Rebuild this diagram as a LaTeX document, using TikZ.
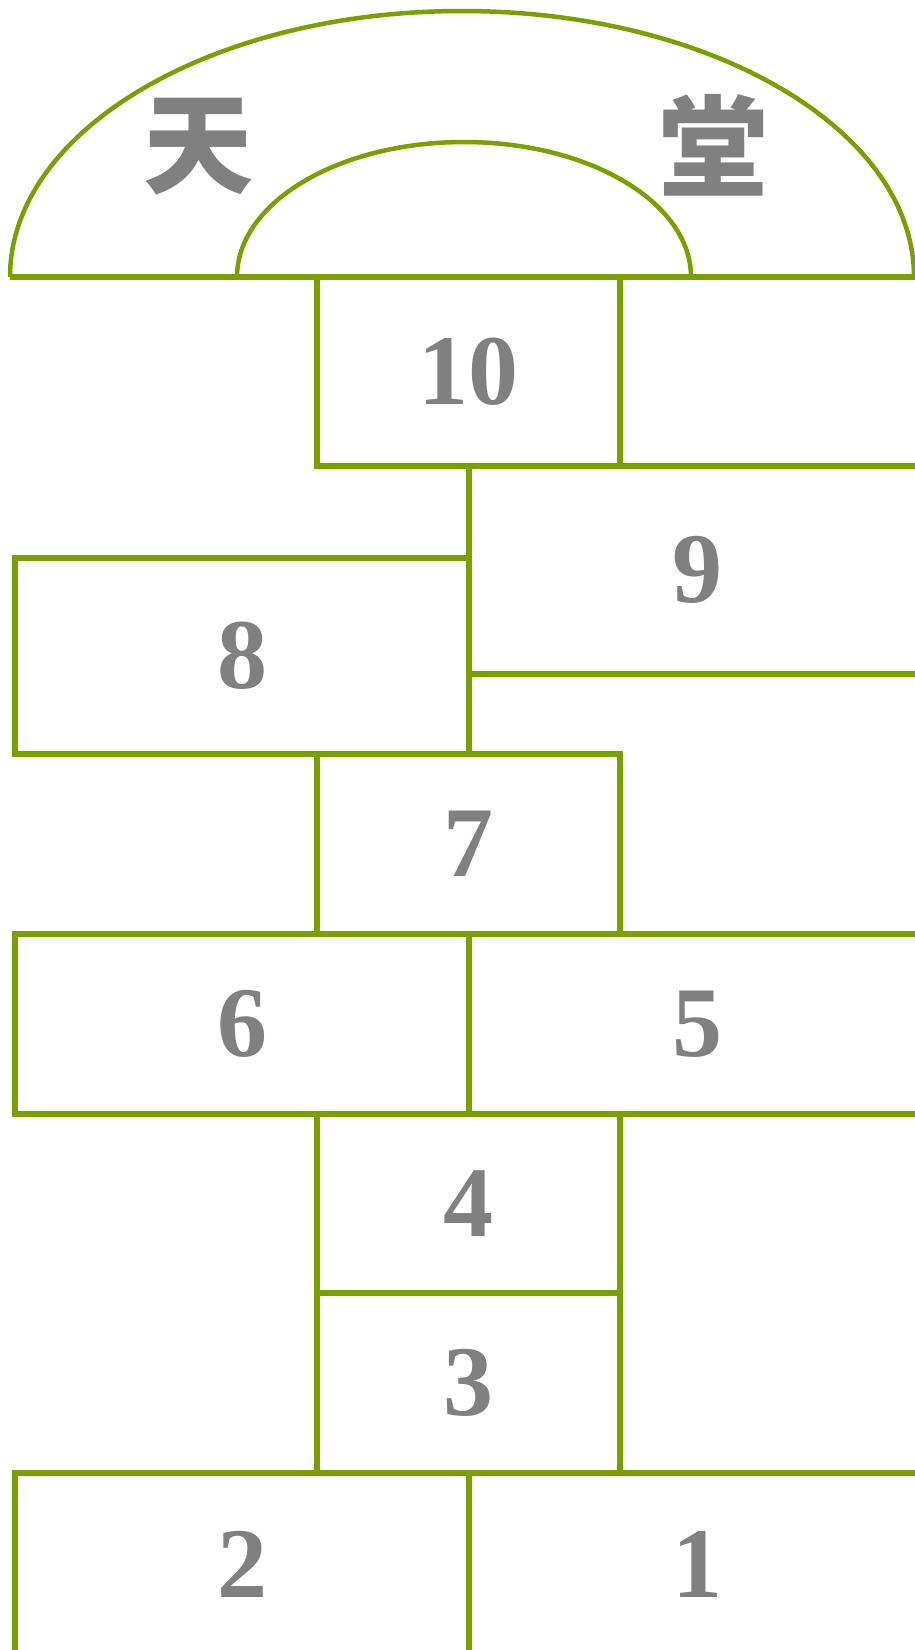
\documentclass[tikz,border=0pt]{standalone}
\usepackage{fontspec}
\setmainfont{Liberation Serif}
\newfontfamily\cjk{Noto Sans CJK SC}
\usepackage{tikz}
\definecolor{grassgreen}{RGB}{122,160,0}
\definecolor{chalkgray}{RGB}{128,128,128}

\begin{document}
\begin{tikzpicture}[x=1pt, y=-1pt, line width=6pt, draw=grassgreen,
    cell/.style={draw=grassgreen, inner sep=0pt, text=chalkgray,
        font=\fontsize{100}{100}\selectfont\bfseries},
    word/.style={inner sep=0pt, text=chalkgray, font=\cjk\bfseries\fontsize{110}{110}\selectfont}]
    % Page
    \useasboundingbox (0,0) rectangle (915,1650);
    \clip (0,0) rectangle (915,1650);

    % Heaven: two half ellipses on one base line
    \draw[line width=4.5pt] (10,277) arc[start angle=180, end angle=0, x radius=452pt, y radius=266pt];
    \draw[line width=4.5pt] (237,277) arc[start angle=180, end angle=0, x radius=227pt, y radius=135pt];
    \draw (10,277) -- (925,277);
    \node[word] (tian) at (198,147) {天};
    \node[word] (tang) at (713,145) {堂};

    % Cells, from the top down
    \node[cell, minimum width=303pt, minimum height=189pt] (c10) at (468.5,371.5) {10};
    \node[cell, minimum width=456pt, minimum height=208pt] (c9) at (697,570) {9};
    \node[cell, minimum width=454pt, minimum height=196pt] (c8) at (242,656) {8};
    \node[cell, minimum width=303pt, minimum height=180pt] (c7) at (468.5,844) {7};
    \node[cell, minimum width=454pt, minimum height=180pt] (c6) at (242,1024) {6};
    \node[cell, minimum width=456pt, minimum height=180pt] (c5) at (697,1024) {5};
    \node[cell, minimum width=303pt, minimum height=179pt] (c4) at (468.5,1203.5) {4};
    \node[cell, minimum width=303pt, minimum height=180pt] (c3) at (468.5,1383) {3};
    \node[cell, minimum width=454pt, minimum height=182pt] (c2) at (242,1564) {2};
    \node[cell, minimum width=456pt, minimum height=182pt] (c1) at (697,1564) {1};
\end{tikzpicture}
\end{document}
